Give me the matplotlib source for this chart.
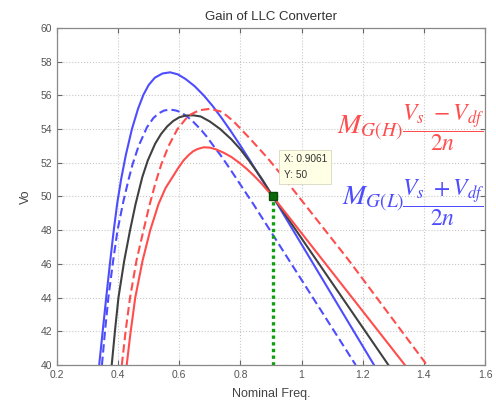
import matplotlib
matplotlib.use("Agg")
import matplotlib.pyplot as plt

# gain curves (nominal freq, Vo)
blue_x = [0.338, 0.35, 0.361, 0.373, 0.385, 0.397, 0.41, 0.425, 0.445, 0.465,
          0.483, 0.50, 0.52, 0.545, 0.57, 0.595, 0.62, 0.65, 0.68, 0.71,
          0.74, 0.77, 0.80, 0.833, 0.87, 0.906, 1.237]
blue_y = [40, 42.1, 44, 46, 47.9, 49.6, 51.05, 52.45, 54.0, 55.2,
          56.05, 56.62, 57.05, 57.3, 57.37, 57.25, 56.98, 56.55, 56.0, 55.35,
          54.62, 53.84, 53.02, 52.08, 51.0, 50, 40]

blue_dash_x = [0.347, 0.357, 0.368, 0.383, 0.398, 0.417, 0.434, 0.447, 0.467, 0.494,
               0.515, 0.532, 0.55, 0.57, 0.59, 0.605, 0.625, 0.642, 0.669, 0.69,
               0.712, 0.735, 0.756, 0.78, 0.80, 0.844, 1.177]
blue_dash_y = [40, 42, 44, 46.1, 48, 49.7, 51.0, 51.9, 53.0, 54.1,
               54.65, 54.93, 55.1, 55.16, 55.1, 55.0, 54.75, 54.5, 54.0, 53.55,
               53.0, 52.45, 51.9, 51.25, 50.7, 49.5, 40]

black_x = [0.379, 0.39, 0.401, 0.42, 0.439, 0.457, 0.479, 0.497, 0.521, 0.54,
           0.56, 0.58, 0.60, 0.62, 0.645, 0.67, 0.70, 0.734, 0.77, 0.80,
           0.83, 0.87, 0.906, 1.284]
black_y = [40, 42.1, 44, 46.2, 48, 49.55, 51.15, 52.14, 53.13, 53.7,
           54.15, 54.48, 54.7, 54.8, 54.82, 54.75, 54.45, 54.0, 53.4, 52.8,
           52.08, 51.05, 50, 40]

red_x = [0.428, 0.44, 0.456, 0.48, 0.505, 0.532, 0.555, 0.576, 0.595, 0.614,
         0.63, 0.645, 0.66, 0.68, 0.70, 0.72, 0.745, 0.77, 0.795, 0.82,
         0.845, 0.865, 0.885, 0.906, 1.338]
red_y = [40, 41.85, 44, 46.2, 48, 49.55, 50.5, 51.1, 51.65, 52.14,
         52.45, 52.68, 52.82, 52.92, 52.9, 52.8, 52.6, 52.35, 52.02, 51.65,
         51.22, 50.85, 50.43, 50, 40]

red_dash_x = [0.412, 0.425, 0.439, 0.46, 0.483, 0.502, 0.522, 0.541, 0.565, 0.594,
              0.63, 0.665, 0.70, 0.735, 0.755, 0.778, 0.833, 0.888, 0.931, 0.975,
              1.155, 1.41]
red_dash_y = [40, 42.1, 44, 46.2, 48, 49.45, 50.8, 51.9, 53.0, 54.0,
              54.8, 55.12, 55.2, 55.05, 54.8, 54.45, 53.4, 52.3, 51.35, 50.35,
              46.2, 40]

tip_x = 0.9061
tip_y = 50

xticks = [0.2, 0.4, 0.6, 0.8, 1.0, 1.2, 1.4, 1.6]
xticklabels = ["0.2", "0.4", "0.6", "0.8", "1", "1.2", "1.4", "1.6"]
yticks = list(range(40, 61, 2))

RED = "#ff4d4d"
BLUE = "#4d4dff"
GREY = "#404040"

plt.rcParams["font.family"] = ["Liberation Sans", "DejaVu Sans"]
plt.rcParams["mathtext.fontset"] = "stix"

fig = plt.figure(figsize=(4.96, 4.11), dpi=100)
ax = fig.add_axes([57 / 496, 46 / 411, 428 / 496, 337 / 411])

lw = 1.5
ax.plot(blue_x, blue_y, color=BLUE, lw=lw)
ax.plot(blue_dash_x, blue_dash_y, color=BLUE, lw=lw, dashes=(4, 2))
ax.plot(black_x, black_y, color=GREY, lw=lw)
ax.plot(red_dash_x, red_dash_y, color=RED, lw=lw, dashes=(4, 2))
ax.plot(red_x, red_y, color=RED, lw=lw)

# data tip
ax.plot([tip_x, tip_x], [40, tip_y], color="#12a012", lw=2.4, ls=(0, (1, 1)))
ax.plot([tip_x], [tip_y], marker="s", ms=6, color="#0a6a0a", mec="#0a4a0a")
ax.text(0.941, 51.75, f"X: {tip_x}\nY: {tip_y}", fontsize=7.3, color="#333333",
        ha="left", va="center", linespacing=1.7,
        bbox=dict(boxstyle="square,pad=0.45", fc="#ffffe6", ec="#d8d8c0", lw=0.6))

ax.set_xlim(0.2, 1.6)
ax.set_ylim(40, 60)
ax.set_xticks(xticks)
ax.set_xticklabels(xticklabels)
ax.set_yticks(yticks)
ax.tick_params(direction="in", length=3.5, top=True, right=True,
               labelsize=7.5, labelcolor="#555555", color="#666666")
ax.grid(True, ls=":", color="#c8c8c8", lw=0.8)
for s in ax.spines.values():
    s.set_color("#888888")
    s.set_linewidth(0.9)

ax.set_title("Gain of LLC Converter", fontsize=9.5, color="#333333", pad=6)
ax.set_xlabel("Nominal Freq.", fontsize=9, color="#444444", labelpad=6)
ax.set_ylabel("Vo", fontsize=9, color="#444444", labelpad=6)

# formulas
ax.text(0.655, 0.703, r"$M_{G(H)}$", transform=ax.transAxes, fontsize=20,
        color=RED, ha="left", va="center")
ax.text(0.903, 0.703, r"$\dfrac{V_s\ -V_{df}}{2n}$", transform=ax.transAxes,
        fontsize=17, color=RED, ha="center", va="center")
ax.text(0.667, 0.49, r"$M_{G(L)}$", transform=ax.transAxes, fontsize=20,
        color=BLUE, ha="left", va="center")
ax.text(0.903, 0.481, r"$\dfrac{V_s\ +V_{df}}{2n}$", transform=ax.transAxes,
        fontsize=17, color=BLUE, ha="center", va="center")

fig.savefig("out.png", dpi=100)
